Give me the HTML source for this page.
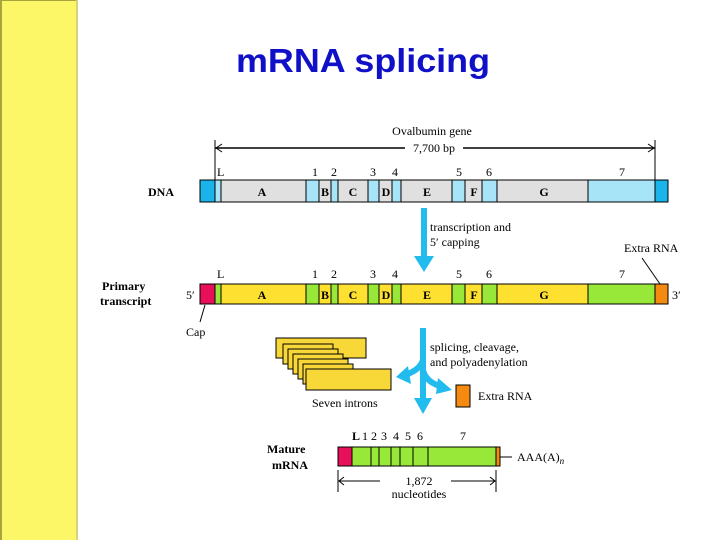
<!DOCTYPE html>
<html><head><meta charset="utf-8"><style>
body{margin:0;width:720px;height:540px;background:#fff;overflow:hidden;font-family:"Liberation Serif",serif}
</style></head><body>
<svg width="720" height="540" xmlns="http://www.w3.org/2000/svg" font-family="Liberation Serif, serif" font-size="12">
<rect x="0" y="0" width="78" height="540" fill="#fbf766"/>
<rect x="0" y="0" width="2" height="540" fill="#a8a440"/>
<rect x="0" y="0" width="78" height="1" fill="#a8a440"/>
<rect x="76" y="0" width="2" height="540" fill="#d8d27a"/>
<text x="236" y="72" textLength="254" lengthAdjust="spacingAndGlyphs" font-family="Liberation Sans, sans-serif" font-weight="bold" font-size="33" fill="#1010c8">mRNA splicing</text>

<!-- gene span -->
<text x="432" y="135" text-anchor="middle">Ovalbumin gene</text>
<line x1="215" y1="148" x2="655" y2="148" stroke="#000" stroke-width="1.5"/>
<rect x="405" y="142" width="58" height="12" fill="#fff"/>
<text x="434" y="152" text-anchor="middle">7,700 bp</text>
<line x1="215" y1="140" x2="215" y2="180" stroke="#000"/>
<line x1="655" y1="140" x2="655" y2="180" stroke="#000"/>
<path d="M222,144 L216,148 L222,152 M648,144 L654,148 L648,152" fill="none" stroke="#000"/>

<g font-size="12">
<text x="217" y="176">L</text><text x="312" y="176">1</text><text x="331" y="176">2</text><text x="370" y="176">3</text><text x="392" y="176">4</text><text x="456" y="176">5</text><text x="486" y="176">6</text><text x="619" y="176">7</text>
<text x="217" y="278">L</text><text x="312" y="278">1</text><text x="331" y="278">2</text><text x="370" y="278">3</text><text x="392" y="278">4</text><text x="456" y="278">5</text><text x="486" y="278">6</text><text x="619" y="278">7</text>
</g>

<text x="148" y="196" font-weight="bold" font-size="12">DNA</text>
<g stroke="#000" stroke-width="1">
<rect x="200" y="180" width="468" height="22" fill="#a8e4f8"/>
<rect x="200" y="180" width="15" height="22" fill="#1ab4ea"/>
<rect x="655" y="180" width="13" height="22" fill="#1ab4ea"/>
<rect x="221" y="180" width="85" height="22" fill="#e0e0e0"/>
<rect x="319" y="180" width="12" height="22" fill="#e0e0e0"/>
<rect x="338" y="180" width="30" height="22" fill="#e0e0e0"/>
<rect x="379" y="180" width="13" height="22" fill="#e0e0e0"/>
<rect x="401" y="180" width="51" height="22" fill="#e0e0e0"/>
<rect x="465" y="180" width="17" height="22" fill="#e0e0e0"/>
<rect x="497" y="180" width="91" height="22" fill="#e0e0e0"/>
</g>
<g font-weight="bold" text-anchor="middle" font-size="12">
<text x="262" y="196">A</text><text x="325" y="196">B</text><text x="353" y="196">C</text><text x="386" y="196">D</text><text x="427" y="196">E</text><text x="474" y="196">F</text><text x="544" y="196">G</text>
</g>

<rect x="421" y="208" width="6" height="50" fill="#22bbee"/>
<path d="M414,256 L424,272 L434,256 Z" fill="#22bbee"/>
<text x="430" y="231">transcription and</text>
<text x="430" y="246">5′ capping</text>
<text x="624" y="252">Extra RNA</text>
<line x1="642" y1="258" x2="660" y2="284" stroke="#000"/>

<text x="102" y="290" font-weight="bold">Primary</text>
<text x="100" y="305" font-weight="bold">transcript</text>
<text x="186" y="299">5′</text>
<text x="672" y="299">3′</text>
<g stroke="#000" stroke-width="1">
<rect x="200" y="284" width="468" height="20" fill="#98e83a"/>
<rect x="200" y="284" width="15" height="20" fill="#e8105a"/>
<rect x="655" y="284" width="13" height="20" fill="#f58a10"/>
<rect x="221" y="284" width="85" height="20" fill="#fde030"/>
<rect x="319" y="284" width="12" height="20" fill="#fde030"/>
<rect x="338" y="284" width="30" height="20" fill="#fde030"/>
<rect x="379" y="284" width="13" height="20" fill="#fde030"/>
<rect x="401" y="284" width="51" height="20" fill="#fde030"/>
<rect x="465" y="284" width="17" height="20" fill="#fde030"/>
<rect x="497" y="284" width="91" height="20" fill="#fde030"/>
</g>
<g font-weight="bold" text-anchor="middle">
<text x="262" y="299">A</text><text x="325" y="299">B</text><text x="353" y="299">C</text><text x="386" y="299">D</text><text x="427" y="299">E</text><text x="474" y="299">F</text><text x="544" y="299">G</text>
</g>
<line x1="205" y1="305" x2="200" y2="322" stroke="#000"/>
<text x="186" y="336">Cap</text>

<g stroke="#000" fill="#f8d838">
<rect x="276" y="338" width="90" height="20"/>
<rect x="283" y="344" width="50" height="20"/>
<rect x="288" y="349" width="50" height="20"/>
<rect x="293" y="354" width="50" height="20"/>
<rect x="298" y="359" width="50" height="20"/>
<rect x="303" y="364" width="50" height="20"/>
<rect x="306" y="369" width="85" height="21"/>
</g>
<text x="312" y="407">Seven introns</text>

<g fill="none" stroke="#22bbee" stroke-width="6">
<path d="M423,328 L423,400"/>
<path d="M423,360 Q420,370 405,375"/>
<path d="M423,370 Q426,382 440,386"/>
</g>
<path d="M414,398 L423,414 L432,398 Z" fill="#22bbee"/>
<path d="M408,366 L396,377 L411,384 Z" fill="#22bbee"/>
<path d="M438,378 L452,390 L436,394 Z" fill="#22bbee"/>
<text x="430" y="351">splicing, cleavage,</text>
<text x="430" y="366">and polyadenylation</text>
<rect x="456" y="385" width="14" height="22" fill="#f58a10" stroke="#000"/>
<text x="478" y="400">Extra RNA</text>

<text x="267" y="453" font-weight="bold">Mature</text>
<text x="272" y="469" font-weight="bold">mRNA</text>
<g font-size="12"><text x="352" y="440" font-weight="bold">L</text><text x="362" y="440">1</text><text x="371" y="440">2</text><text x="381" y="440">3</text><text x="393" y="440">4</text><text x="405" y="440">5</text><text x="417" y="440">6</text><text x="460" y="440">7</text></g>
<g stroke="#000">
<rect x="338" y="447" width="162" height="19" fill="#98e83a"/>
<rect x="338" y="447" width="14" height="19" fill="#e8105a"/>
<rect x="496" y="447" width="4" height="19" fill="#f58a10"/>
<line x1="371" y1="447" x2="371" y2="466"/><line x1="379" y1="447" x2="379" y2="466"/><line x1="391" y1="447" x2="391" y2="466"/><line x1="400" y1="447" x2="400" y2="466"/><line x1="413" y1="447" x2="413" y2="466"/><line x1="428" y1="447" x2="428" y2="466"/>
<line x1="500" y1="457" x2="512" y2="457"/>
<line x1="338" y1="470" x2="338" y2="492"/><line x1="496" y1="470" x2="496" y2="492"/>
<line x1="339" y1="481" x2="380" y2="481"/><line x1="451" y1="481" x2="495" y2="481"/>
</g>
<path d="M344,477 L339,481 L344,485 M490,477 L495,481 L490,485" fill="none" stroke="#000"/>
<text x="517" y="461">AAA(A)<tspan font-style="italic" font-size="9" dy="3">n</tspan></text>
<text x="419" y="485" text-anchor="middle">1,872</text>
<text x="419" y="498" text-anchor="middle">nucleotides</text>
</svg>
</body></html>
